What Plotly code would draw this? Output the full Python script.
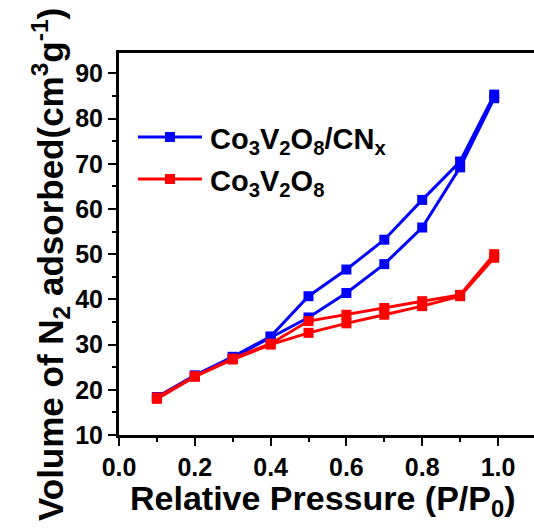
import plotly.graph_objects as go

# Relative pressure points (adsorption runs up, desorption runs back down)
p_ads = [0.1, 0.2, 0.3, 0.4, 0.5, 0.6, 0.7, 0.8, 0.9, 0.99]
p_des = [0.99, 0.9, 0.8, 0.7, 0.6, 0.5, 0.4, 0.3, 0.2, 0.1]

# Co3V2O8/CNx isotherm (cm3 g-1)
cn_ads = [18.2, 23.0, 27.1, 31.6, 36.0, 41.4, 47.8, 55.9, 69.2, 84.5]
cn_des = [85.3, 70.5, 62.0, 53.2, 46.6, 40.7, 31.8, 27.3, 23.2, 18.4]

# Co3V2O8 isotherm (cm3 g-1)
co_ads = [18.0, 22.9, 26.7, 30.0, 32.6, 34.7, 36.6, 38.5, 40.7, 49.2]
co_des = [50.0, 41.0, 39.6, 38.1, 36.6, 35.2, 30.2, 26.9, 23.0, 18.3]

series = [
    ("Co<sub>3</sub>V<sub>2</sub>O<sub>8</sub>/CN<sub>x</sub>", "#0000FF", cn_ads, cn_des),
    ("Co<sub>3</sub>V<sub>2</sub>O<sub>8</sub>", "#FF0000", co_ads, co_des),
]

W, H = 534, 530
ML, MR, MT, MB = 119, 0, 53, 95
PW, PH = W - ML - MR, H - MT - MB

FONT = "Liberation Sans, Arial, sans-serif"

fig = go.Figure()
for name, color, ads, des in series:
    fig.add_trace(go.Scatter(
        x=p_ads + p_des, y=ads + des, mode="lines+markers", name=name,
        line=dict(color=color, width=3),
        marker=dict(symbol="square", size=10, color=color),
        showlegend=False,
    ))


def px_x(v):
    return (v - ML) / PW


def px_y(v):
    return (H - MB - v) / PH


shapes = []
annotations = []
# hand-built legend: long line with a square marker in the middle
for i, (name, color, _, _) in enumerate(series):
    yc = 137 + i * 42
    shapes.append(dict(type="line", xref="paper", yref="paper",
                       x0=px_x(138), x1=px_x(202), y0=px_y(yc), y1=px_y(yc),
                       line=dict(color=color, width=3)))
    shapes.append(dict(type="rect", xref="paper", yref="paper",
                       x0=px_x(165), x1=px_x(175), y0=px_y(yc + 5), y1=px_y(yc - 5),
                       line=dict(width=0), fillcolor=color))
    annotations.append(dict(text=name, xref="paper", yref="paper",
                            x=px_x(208), y=px_y(yc + 4), xanchor="left", yanchor="middle",
                            showarrow=False,
                            font=dict(family=FONT, size=29, color="black", weight="bold")))

annotations.append(dict(text="Relative Pressure (P/P<sub>0</sub>)", xref="paper", yref="paper",
                        x=px_x(323), y=px_y(500), xanchor="center", yanchor="middle",
                        showarrow=False,
                        font=dict(family=FONT, size=34, color="black", weight="bold")))
annotations.append(dict(text="Volume of N<sub>2</sub> adsorbed(cm<sup>3</sup>g<sup>-1</sup>)",
                        xref="paper", yref="paper", textangle=-90,
                        x=px_x(50), y=px_y(265), xanchor="center", yanchor="middle",
                        showarrow=False,
                        font=dict(family=FONT, size=35, color="black", weight="bold")))

axis_common = dict(
    showgrid=False, zeroline=False, showline=True, linecolor="black", linewidth=3,
    ticks="outside", tickcolor="black", tickwidth=2, ticklen=8,
    tickfont=dict(family=FONT, size=25, color="black", weight="bold"),
)

fig.update_layout(
    width=W, height=H,
    margin=dict(l=ML, r=MR, t=MT, b=MB),
    plot_bgcolor="white", paper_bgcolor="white",
    xaxis=dict(range=[0, 1.095], tickmode="array",
               tickvals=[0.0, 0.2, 0.4, 0.6, 0.8, 1.0],
               ticktext=["0.0", "0.2", "0.4", "0.6", "0.8", "1.0"],
               mirror=True,
               minor=dict(tickvals=[0.1, 0.3, 0.5, 0.7, 0.9], ticks="outside",
                          ticklen=4, tickwidth=2, tickcolor="black"),
               **axis_common),
    yaxis=dict(range=[10, 94.5], tickmode="array",
               tickvals=[10, 20, 30, 40, 50, 60, 70, 80, 90],
               ticktext=["10", "20", "30", "40", "50", "60", "70", "80", "90"],
               minor=dict(tickvals=[15, 25, 35, 45, 55, 65, 75, 85], ticks="outside",
                          ticklen=4, tickwidth=2, tickcolor="black"),
               **axis_common),
    shapes=shapes,
    annotations=annotations,
)

fig.write_html("out.html")
